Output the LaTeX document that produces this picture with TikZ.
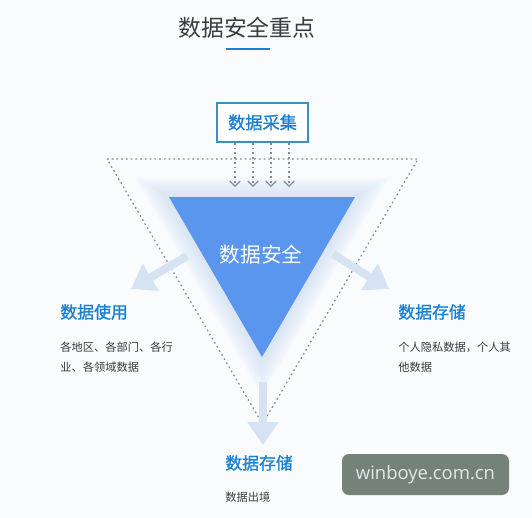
\documentclass[tikz,border=0pt]{standalone}
\usepackage{fontspec}
\newfontfamily\cjk{Noto Sans CJK SC}
\newfontfamily\cjkb[FakeBold=1.2]{Noto Sans CJK SC}
\newfontfamily\wmfont{Open Sans}
\usetikzlibrary{arrows.meta}

\definecolor{bgcol}{RGB}{249,251,253}
\definecolor{coreblue}{RGB}{90,150,238}
\definecolor{glowblue}{RGB}{200,218,245}
\definecolor{headblue}{RGB}{26,128,212}
\definecolor{boxline}{RGB}{60,145,190}
\definecolor{arrowfill}{RGB}{214,227,243}
\definecolor{arrowline}{RGB}{196,212,232}
\definecolor{dotgray}{RGB}{128,142,158}
\definecolor{textgray}{RGB}{60,60,60}
\definecolor{wmgray}{RGB}{117,130,122}
\definecolor{wmtext}{RGB}{222,234,234}

\begin{document}
\begin{tikzpicture}[x=0.02cm,y=-0.02cm,
    head/.style={text=headblue,font=\cjkb\fontsize{9.6}{11}\selectfont,inner sep=0pt},
    desc/.style={text=textgray,font=\cjk\fontsize{6.4}{11.3}\selectfont,align=left,inner sep=0pt},
    dotline/.style={dotgray,dash pattern=on 1pt off 1.7pt,line width=0.7pt},
    dotarrow/.style={dotline,-{Straight Barb[length=3pt,width=6pt]}},
    fatarrow/.style={arrowfill,line width=0.16cm,-{Triangle[width=0.6cm,length=0.46cm]}}]

        \fill[bgcol] (0,0) rectangle (532,518);
        \useasboundingbox (0,0) rectangle (532,518);

        % title
        \node[text=textgray,font=\cjk\fontsize{13}{15}\selectfont,inner sep=0pt] (title) at (247,28) {数据安全重点};
        \draw[headblue,line width=1.1pt] (226,49) -- (270,49);

        % glow and core triangle
        \begin{scope}[shift={(262,250)}]
          \foreach \s in {1.36,1.32,...,1.02}
            \fill[glowblue,fill opacity=0.09,scale=\s] (-93,-53) -- (93,-53) -- (0,107) -- cycle;
        \end{scope}

        \coordinate (t1) at (107,159);
        \coordinate (t2) at (418,159);
        \coordinate (t3) at (262.5,424);
        \draw[dotline] (t1) -- (t2) -- (t3) -- cycle;

        \fill[coreblue] (169,197) -- (355,197) -- (262,357) -- cycle;
        \node[text=white,font=\cjk\fontsize{11.8}{14}\selectfont,inner sep=0pt] (core) at (261,255) {数据安全};

        % input box
        \node[draw=boxline,line width=1.1pt,fill=white,minimum width=1.82cm,minimum height=0.78cm,
              text=headblue,font=\cjkb\fontsize{9.8}{11}\selectfont] (collect) at (262.5,122.5) {数据采集};
        \foreach \dx [count=\i] in {-27,-9,9,27} {
          \coordinate (in\i) at (262+\dx,187);
          \draw[dotarrow] (collect.south -| in\i) -- (in\i);
        }

        % outgoing arrows
        \coordinate (l0) at (187,256);
        \coordinate (l1) at (131,289);
        \coordinate (r0) at (333,254);
        \coordinate (r1) at (389,289);
        \coordinate (b0) at (263,382);
        \coordinate (b1) at (263,445);
        \draw[fatarrow] (l0) -- (l1);
        \draw[fatarrow] (r0) -- (r1);
        \draw[fatarrow] (b0) -- (b1);

        % labels
        \node[head,anchor=west] (use) at (60,312) {数据使用};
        \node[desc,anchor=west] (usetxt) at (60,357) {各地区、各部门、各行\\业、各领域数据};
        \node[head,anchor=west] (store) at (398,312) {数据存储};
        \node[desc,anchor=west] (storetxt) at (398,357) {个人隐私数据，个人其\\他数据};
        \node[head,anchor=west] (out) at (225,463) {数据存储};
        \node[desc,anchor=west] (outtxt) at (225,497) {数据出境};

        % watermark
        \fill[wmgray,rounded corners=0.14cm] (342,454) rectangle (509,495);
        \node[text=wmtext,font=\wmfont\fontsize{10.5}{12}\selectfont,inner sep=0pt] (wm) at (425.5,474.5) {winboye.com.cn};

      \end{tikzpicture}
\end{document}
